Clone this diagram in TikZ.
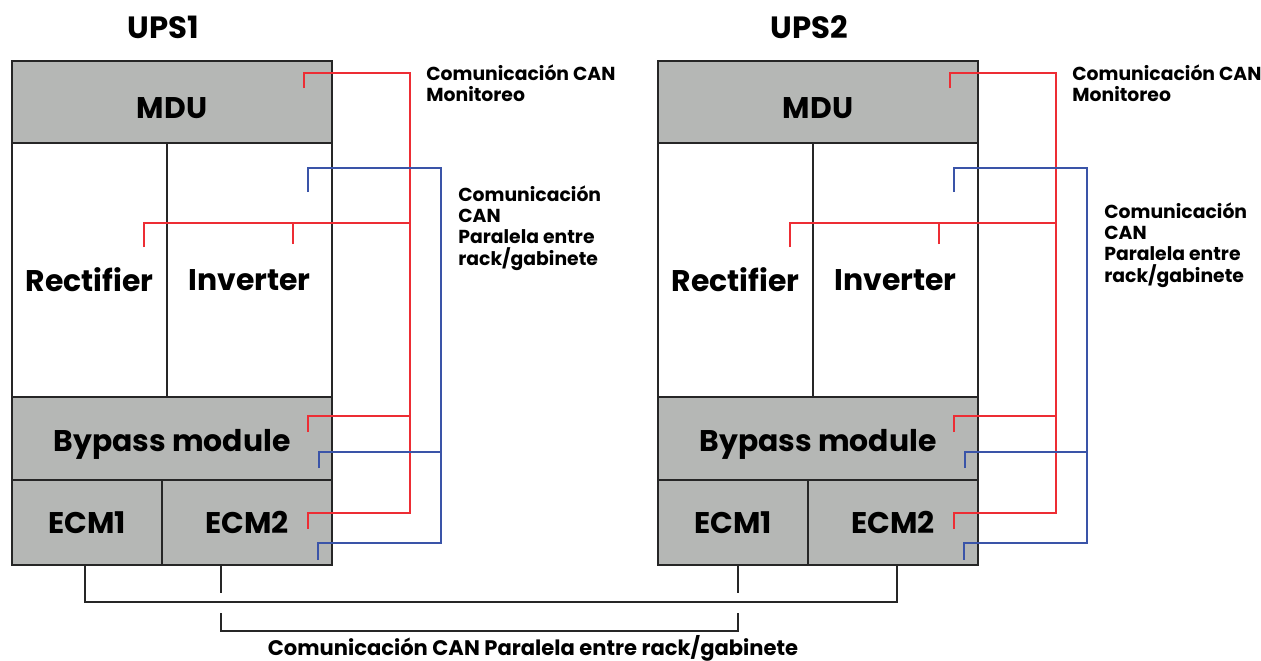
\documentclass[tikz,border=0pt]{standalone}
\usepackage{fontspec}
\setmainfont{Poppins}
\definecolor{boxgrey}{RGB}{181,183,181}
\definecolor{canred}{RGB}{237,45,52}
\definecolor{canblue}{RGB}{58,84,168}

\begin{document}
\begin{tikzpicture}[x=0.02cm,y=-0.02cm,
unitbox/.style={rectangle, draw=black!85, line width=1.3pt, inner sep=0pt},
greybox/.style={unitbox, fill=boxgrey},
whitebox/.style={unitbox, fill=white},
boxtext/.style={font=\fontsize{17}{20}\selectfont\bfseries, inner sep=0pt},
redline/.style={canred, line width=1.1pt},
blueline/.style={canblue, line width=1.1pt},
busline/.style={black!85, line width=1.1pt},
note/.style={align=left, anchor=north west, inner sep=0pt, font=\fontsize{10.7}{12.2}\selectfont\bfseries},
]
    \useasboundingbox (0,0) rectangle (1261,660);

    \foreach \u/\dx/\dy in {1/0/0,2/646/17}{
    % cabinet
    \node[font=\fontsize{17.5}{20}\selectfont\bfseries] (title\u) at (163+\dx,27){UPS\u};
    \node[greybox, minimum width=6.4cm, minimum height=1.64cm, label={[boxtext, yshift=-0.12cm]center:MDU}] (mdu\u) at (172+\dx,102){};
    \node[whitebox, minimum width=3.1cm, minimum height=5.08cm, label={[boxtext, yshift=-0.2cm]center:Rectifier}] (rec\u) at (89.5+\dx,270){};
    \node[whitebox, minimum width=3.3cm, minimum height=5.08cm, label={[boxtext, yshift=-0.2cm]center:Inverter}] (inv\u) at (249.5+\dx,270){};
    \node[greybox, minimum width=6.4cm, minimum height=1.66cm, label={[boxtext, yshift=-0.12cm]center:Bypass module}] (byp\u) at (172+\dx,438.5){};
    \node[greybox, minimum width=3.0cm, minimum height=1.7cm, label={[boxtext]center:ECM1}] (ecma\u) at (87+\dx,522.5){};
    \node[greybox, minimum width=3.4cm, minimum height=1.7cm, label={[boxtext]center:ECM2}] (ecmb\u) at (247+\dx,522.5){};

    % red bus
    \coordinate (rtop\u) at (410+\dx,73);
    \coordinate (rmid\u) at (410+\dx,223);
    \coordinate (rbyb\u) at (410+\dx,416);
    \coordinate (rbot\u) at (410+\dx,513);
    \coordinate (rmdu\u) at (304+\dx,88);
    \coordinate (rrec\u) at (144+\dx,247);
    \coordinate (rinv\u) at (293+\dx,244);
    \coordinate (rbyp\u) at (308+\dx,432);
    \coordinate (recm\u) at (308+\dx,529);
    \draw[redline] (rmdu\u) |- (rtop\u) -- (rbot\u) -| (recm\u);
    \draw[redline] (rrec\u) |- (rmid\u);
    \draw[redline] (rinv\u) -- (rinv\u |- rmid\u);
    \draw[redline] (rbyp\u) |- (rbyb\u);

    % blue bus
    \coordinate (btop\u) at (441+\dx,168);
    \coordinate (bbyb\u) at (441+\dx,452);
    \coordinate (bbot\u) at (441+\dx,543);
    \coordinate (binv\u) at (308+\dx,192);
    \coordinate (bbyp\u) at (319+\dx,468);
    \coordinate (becm\u) at (318+\dx,560);
    \draw[blueline] (binv\u) |- (btop\u) -- (bbot\u) -| (becm\u);
    \draw[blueline] (bbyp\u) |- (bbyb\u);

    \node[note] (mon\u) at (426+\dx,64){Comunicación CAN\\Monitoreo};
    \node[note] (par\u) at (458+\dx,185+\dy){Comunicación\\CAN\\Paralela entre\\rack/gabinete};
    }

    % parallel link between cabinets
    \coordinate (tapA1) at ([xshift=-0.04cm]ecma1.south);
    \coordinate (tapA2) at ([xshift=0.08cm]ecmb2.south);
    \coordinate (tapB1) at ([xshift=-0.52cm]ecmb1.south);
    \coordinate (tapB2) at ([xshift=0.1cm]ecma2.south);
    \draw[busline] (tapA1) -- ++(0,36) -| (tapA2);
    \draw[busline] (tapB1) -- ++(0,27);
    \draw[busline] (tapB2) -- ++(0,27);
    \draw[busline] ([yshift=-0.94cm]tapB1) -- ++(0,18) -| ([yshift=-0.94cm]tapB2);

    \node[font=\fontsize{12}{14}\selectfont\bfseries, anchor=base] (link) at (533,655){Comunicación CAN Paralela entre rack/gabinete};
\end{tikzpicture}
\end{document}
